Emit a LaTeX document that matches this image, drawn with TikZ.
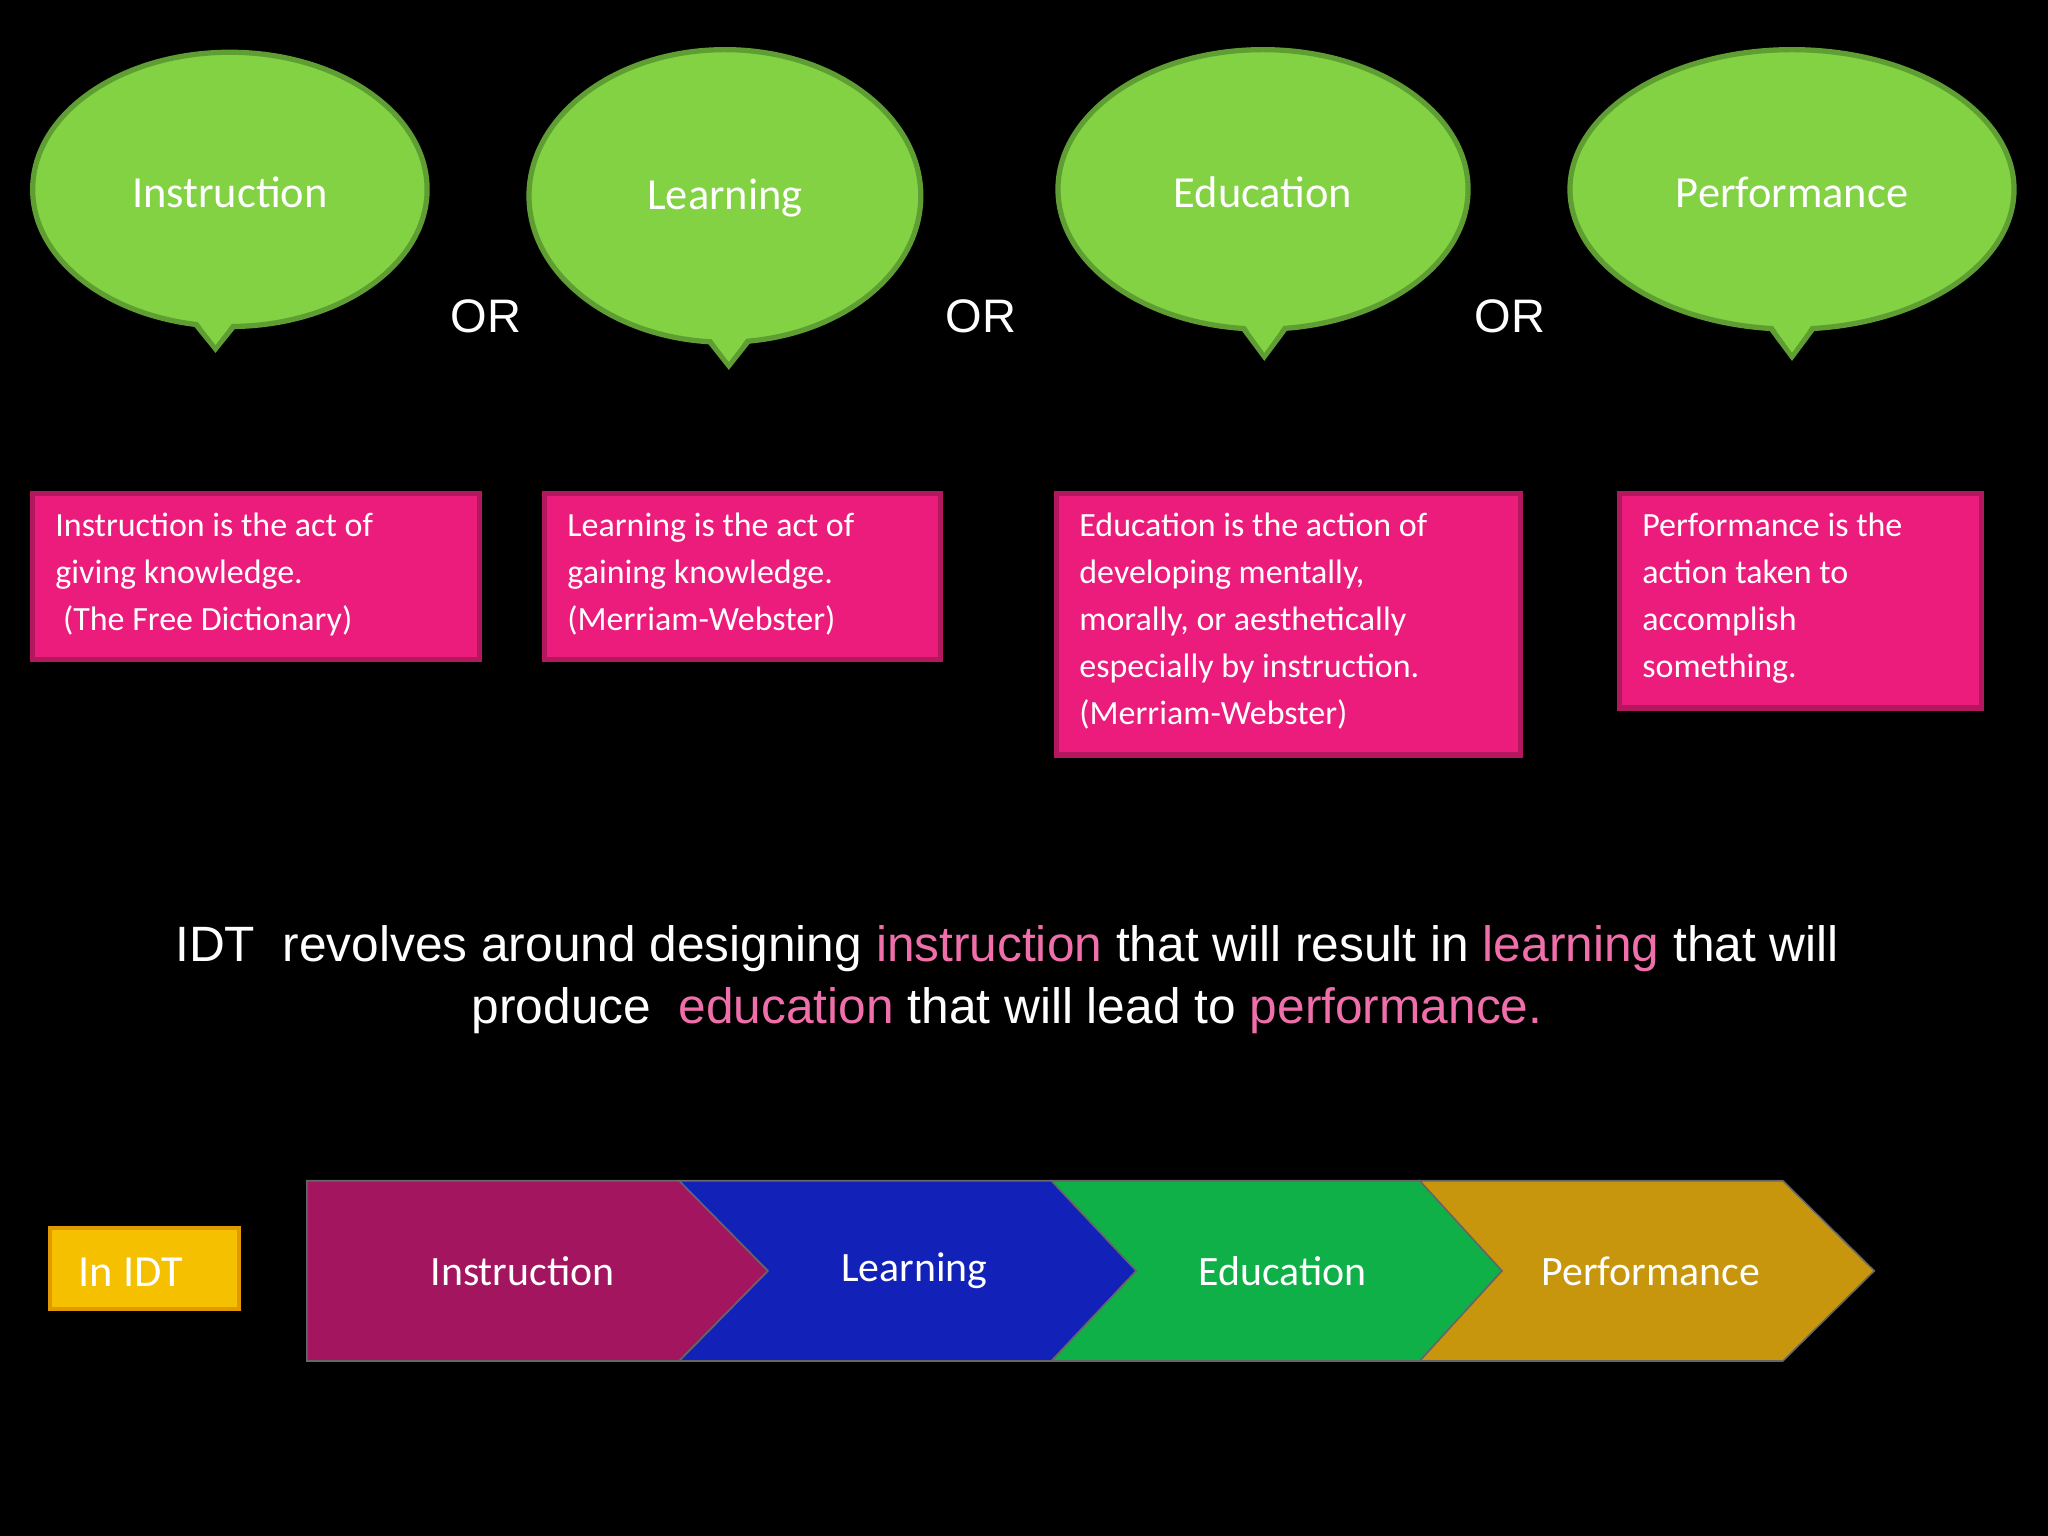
\documentclass[tikz,border=0pt]{standalone}
\usepackage{fontspec}
\setmainfont{Carlito}
\newfontfamily\arial{Liberation Sans}
\definecolor{bgreen}{HTML}{82D244}
\definecolor{bgreenD}{HTML}{5E9E33}
\definecolor{pinkF}{HTML}{EC1C7C}
\definecolor{pinkD}{HTML}{B3185E}
\definecolor{hl}{HTML}{F06EAA}
\definecolor{cI}{HTML}{A3155F}
\definecolor{cL}{HTML}{1222B8}
\definecolor{cE}{HTML}{10B048}
\definecolor{cP}{HTML}{C8960C}
\definecolor{yel}{HTML}{F5C000}
\definecolor{yelD}{HTML}{E09A00}
\tikzset{
  btext/.style={text=white,font=\fontsize{17}{20}\selectfont},
  deftext/.style={text=white,font=\fontsize{13}{18}\selectfont,align=left,anchor=north west,inner sep=0pt},
  defbox/.style={fill=pinkF,draw=pinkD,line width=2pt},
  ortext/.style={text=white,font=\arial\fontsize{18}{20}\selectfont},
  chev/.style={line width=0.6pt,draw=black!60},
  ctext/.style={text=white,font=\fontsize{16}{18}\selectfont},
}
\begin{document}
\begin{tikzpicture}[x=0.5pt,y=-0.5pt]
\fill[black] (0,0) rectangle (1568,1176);
\useasboundingbox (0,0) rectangle (1568,1176);
% bubbles
\foreach \cx/\cy/\rx/\ry/\tx/\ty/\w/\nm in {176/145/151/105/165/267/Instruction/b1,555/150/150/112/558/280/Learning/b2,967/145/157/107/968/273/Education/b3,1372/145/170/107/1372/273/Performance/b4}{
  \filldraw[fill=bgreen,draw=bgreenD,line width=2pt] (\tx-38,\cy+\ry-30) -- (\tx,\ty) -- (\tx+38,\cy+\ry-30) -- cycle;
  \filldraw[fill=bgreen,draw=bgreenD,line width=2pt] (\cx,\cy) ellipse [x radius=\rx,y radius=\ry];
  \fill[bgreen] (\tx-34,\cy+\ry-30) -- (\tx,\ty-3) -- (\tx+34,\cy+\ry-30) -- cycle;
  \node[btext] (\nm) at (\cx,\cy+2) {\w};
}
\node[ortext] (or1) at (372,242) {OR};
\node[ortext] (or2) at (751,242) {OR};
\node[ortext] (or3) at (1156,242) {OR};
% definition boxes
\draw[defbox] (25,378) rectangle (367,505);
\node[deftext] (d1) at (42,392) {Instruction is the act of\\giving knowledge.\\\ (The Free Dictionary)};
\draw[defbox] (417,378) rectangle (720,505);
\node[deftext] (d2) at (434,392) {Learning is the act of\\gaining knowledge.\\(Merriam-Webster)};
\draw[defbox] (809,378) rectangle (1164,578);
\node[deftext] (d3) at (826,392) {Education is the action of\\developing mentally,\\morally, or aesthetically\\especially by instruction.\\(Merriam-Webster)};
\draw[defbox] (1240,378) rectangle (1517,542);
\node[deftext] (d4) at (1257,392) {Performance is the\\action taken to\\accomplish\\something.};
% sentence
\node[text=white,font=\arial\fontsize{19}{23.5}\selectfont,align=center] (sent) at (771,750)
 {IDT\ \ revolves around designing \textcolor{hl}{instruction} that will result in \textcolor{hl}{learning} that will\\produce\ \ \textcolor{hl}{education} that will lead to \textcolor{hl}{performance.}};
% In IDT
\draw[fill=yel,draw=yelD,line width=1.5pt] (38,940) rectangle (183,1002);
\node[text=white,font=\fontsize{17}{20}\selectfont] (inidt) at (100,974) {In IDT};
% chevrons
\filldraw[chev,fill=cI] (235,904) -- (520,904) -- (588,973) -- (520,1042) -- (235,1042) -- cycle;
\filldraw[chev,fill=cL] (520,904) -- (805,904) -- (870,973) -- (805,1042) -- (520,1042) -- (588,973) -- cycle;
\filldraw[chev,fill=cE] (805,904) -- (1087,904) -- (1150,973) -- (1087,1042) -- (805,1042) -- (870,973) -- cycle;
\filldraw[chev,fill=cP] (1087,904) -- (1365,904) -- (1435,973) -- (1365,1042) -- (1087,1042) -- (1150,973) -- cycle;
\node[ctext] (c1) at (400,973) {Instruction};
\node[ctext] (c2) at (700,973) {Learning};
\node[ctext] (c3) at (982,973) {Education};
\node[ctext] (c4) at (1264,973) {Performance};
\end{tikzpicture}
\end{document}
